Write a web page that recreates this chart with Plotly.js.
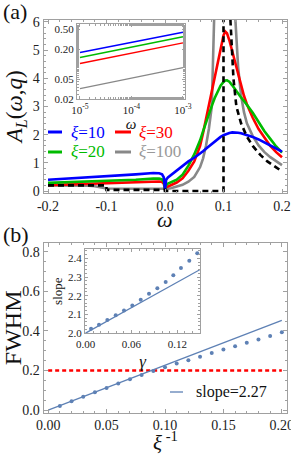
<!DOCTYPE html>
<html><head><meta charset="utf-8">
<script src="https://cdn.plot.ly/plotly-3.0.1.min.js"></script>
<style>html,body{margin:0;padding:0;background:#fff}#chart{width:291px;height:454px}</style>
</head><body><div id="chart"></div>
<script>
// ---------- Panel (a): spectral function A_L(omega,q) ----------
const omega = [-0.2,-0.15,-0.13,-0.12,-0.11,-0.1,-0.05,-0.02,-0.01,-0.005,-0.002,0,
  0.002,0.005,0.01,0.02,0.03,0.04,0.05,0.06,0.065,0.07,0.075,0.08,0.085,0.09,0.095,
  0.1,0.103,0.106,0.11,0.115,0.12,0.125,0.13,0.135,0.14,0.15,0.16,0.17,0.18,0.19,0.2];
const aXi10 = [0.40,0.46,0.48,0.50,0.51,0.52,0.59,0.64,0.63,0.59,0.48,0.06,
  0.40,0.48,0.56,0.75,0.90,1.05,1.18,1.32,1.41,1.50,1.59,1.68,1.77,1.85,1.92,
  1.98,2.01,2.04,2.06,2.08,2.08,2.07,2.05,2.02,1.99,1.92,1.83,1.73,1.62,1.51,1.40];
const aXi20 = [0.29,0.32,0.33,0.34,0.35,0.35,0.40,0.44,0.44,0.41,0.33,0.05,
  0.22,0.26,0.30,0.40,0.58,0.90,1.30,1.80,2.12,2.45,2.75,3.02,3.30,3.55,3.74,
  3.87,3.92,3.93,3.88,3.75,3.60,3.45,3.32,3.20,3.07,2.78,2.45,2.12,1.85,1.58,1.36];
const aXi30 = [0.21,0.24,0.25,0.26,0.27,0.27,0.31,0.34,0.34,0.32,0.26,0.05,
  0.13,0.16,0.20,0.30,0.45,0.72,1.05,1.60,2.05,2.55,3.00,3.50,4.05,4.60,5.10,
  5.52,5.66,5.60,5.35,4.95,4.55,4.12,3.72,3.38,3.08,2.60,2.20,1.88,1.60,1.38,1.20];
const aXi100 = [0.20,0.20,0.19,0.17,0.12,0.09,0.08,0.08,0.08,0.08,0.07,0.06,
  0.07,0.08,0.10,0.15,0.22,0.33,0.50,0.85,1.15,1.60,2.20,3.00,5.20,10,16,
  20,21,20,15,9.5,6.2,4.4,3.4,2.8,2.4,1.95,1.62,1.38,1.20,1.05,0.92];
// xi = infinity (dashed)
const omegaInf = [-0.2,-0.1,-0.1,0,0,0.1,0.1,0.105,0.11,0.112,0.117,0.122,0.13,0.14,0.15,0.163,0.175,0.19,0.2];
const aInf     = [0.2,0.2,0.04,0.04,0,0,30,12,7.5,6.0,4.0,3.0,2.4,1.93,1.6,1.28,1.05,0.84,0.70];

// inset (a): log-log
const omegaSmall = [1e-5,1e-4,1e-3];
const insXi10  = [0.171,0.273,0.435];
const insXi20  = [0.136,0.218,0.351];
const insXi30  = [0.103,0.166,0.266];
const insXi100 = [0.0326,0.0528,0.0857];
const insTickVals = [1e-5,1e-4,1e-3];
const insTickText = ['10<sup>-5</sup>','10<sup>-4</sup>','10<sup>-3</sup>'];
const insYVals = [0.02,0.05,0.2,0.5];
const insYText = ['0.02','0.05','0.20','0.50'];

// ---------- Panel (b): FWHM vs 1/xi ----------
const xiInv = [0.01,0.02,0.03,0.04,0.05,0.06,0.07,0.08,0.09,0.10,0.11,0.12,0.13,0.14,0.15,0.16,0.17,0.18,0.19,0.20];
const fwhm  = [0.021,0.045,0.067,0.090,0.112,0.134,0.156,0.177,0.198,0.216,0.235,0.252,0.269,0.289,0.306,0.323,0.340,0.357,0.374,0.393];
const fitX = [0,0.2];
const fitY = [0,0.454];
const threshX = [0,0.2];
const threshY = [0.2,0.2];
// inset (b)
const gammaVals = [0.0072,0.0176,0.0285,0.0395,0.0503,0.0612,0.0722,0.083,0.0939,0.1048,0.1148,0.1248,0.1357,0.1461];
const slopeVals = [2.023,2.045,2.070,2.096,2.121,2.148,2.178,2.210,2.240,2.273,2.309,2.348,2.387,2.427];
const slopeFitX = [0,0.15];
const slopeFitY = [2.0,2.34];

const aTickVals = [-0.2,-0.1,0,0.1,0.2];
const aTickText = ['-0.2','-0.1','0.0','0.1','0.2'];

const BLUE='#0000ff', RED='#ff0000', GREEN='#00bb00', GRAY='#888888', MBLUE='#5e81b5';
const FONT='Liberation Serif';
const W=291,H=454;
const dx=(a,b)=>[a/W,b/W];
const dy=(t,b)=>[1-b/H,1-t/H];
const FR='#a0a0a0';

const traces = [
  {x:omega,y:aXi100,xaxis:'x',yaxis:'y',mode:'lines',line:{color:GRAY,width:2.6},name:'ξ=100'},
  {x:omega,y:aXi30,xaxis:'x',yaxis:'y',mode:'lines',line:{color:RED,width:2.6},name:'ξ=30'},
  {x:omega,y:aXi20,xaxis:'x',yaxis:'y',mode:'lines',line:{color:GREEN,width:2.6},name:'ξ=20'},
  {x:omega,y:aXi10,xaxis:'x',yaxis:'y',mode:'lines',line:{color:BLUE,width:2.6},name:'ξ=10'},
  {x:omegaInf,y:aInf,xaxis:'x',yaxis:'y',mode:'lines',line:{color:'black',width:2.6,dash:'6px,4px'},name:'ξ=∞'},

  {x:omegaSmall,y:insXi10,xaxis:'x3',yaxis:'y3',mode:'lines',line:{color:BLUE,width:1.5}},
  {x:omegaSmall,y:insXi20,xaxis:'x3',yaxis:'y3',mode:'lines',line:{color:GREEN,width:1.5}},
  {x:omegaSmall,y:insXi30,xaxis:'x3',yaxis:'y3',mode:'lines',line:{color:RED,width:1.5}},
  {x:omegaSmall,y:insXi100,xaxis:'x3',yaxis:'y3',mode:'lines',line:{color:GRAY,width:1.2}},

  {x:threshX,y:threshY,xaxis:'x2',yaxis:'y2',mode:'lines',line:{color:RED,width:2.4,dash:'4px,3px'}},
  {x:fitX,y:fitY,xaxis:'x2',yaxis:'y2',mode:'lines',line:{color:MBLUE,width:1.3},name:'slope=2.27'},
  {x:xiInv,y:fwhm,xaxis:'x2',yaxis:'y2',mode:'markers',marker:{color:MBLUE,size:4}},

  {x:slopeFitX,y:slopeFitY,xaxis:'x4',yaxis:'y4',mode:'lines',line:{color:MBLUE,width:1.2}},
  {x:gammaVals,y:slopeVals,xaxis:'x4',yaxis:'y4',mode:'markers',marker:{color:MBLUE,size:4}}
];

function ax(extra){
  return Object.assign({
    showgrid:false, zeroline:false, showline:true, linecolor:FR, linewidth:1,
    mirror:'ticks', ticks:'inside', ticklen:4, tickcolor:FR, ticklabeloverflow:'allow',
    tickfont:{family:FONT,size:14,color:'#222'}
  }, extra);
}

const layout = {
  width:W, height:H, margin:{l:0,r:0,t:0,b:0}, showlegend:false,
  paper_bgcolor:'white', plot_bgcolor:'white',
  font:{family:FONT,size:14,color:'#111'},
  xaxis: ax({domain:dx(43.5,286.5), anchor:'y', range:[-0.2077,0.2077],
    tickmode:'array', tickvals:aTickVals, ticktext:aTickText,
    minor:{ticks:'inside',ticklen:2,dtick:0.02,tick0:0,tickcolor:FR}}),
  yaxis: ax({domain:dy(20,192.7), anchor:'x', range:[-0.06,6.07], dtick:1,
    minor:{ticks:'inside',ticklen:2,dtick:0.2,tick0:0,tickcolor:FR},
    title:{text:'<i>A</i><sub><i>L</i></sub>(<i>ω</i>,<i>q</i>)', font:{family:FONT,size:23}, standoff:3}}),
  xaxis2: ax({domain:dx(43.5,286.5), anchor:'y2', range:[-0.004,0.204], dtick:0.05, tick0:0, tickformat:'.2f',
    minor:{ticks:'inside',ticklen:2,dtick:0.01,tick0:0,tickcolor:FR}}),
  yaxis2: ax({domain:dy(243,412.6), anchor:'x2', range:[-0.013,0.845], dtick:0.2, tick0:0, tickformat:'.1f',
    minor:{ticks:'inside',ticklen:2,dtick:0.05,tick0:0,tickcolor:FR},
    title:{text:'FWHM', font:{family:FONT,size:24}, standoff:3}}),
  xaxis3: ax({domain:dx(77,185), anchor:'y3', type:'log', range:[-5.058,-2.961],
    tickmode:'array', tickvals:insTickVals, ticktext:insTickText, tickfont:{family:FONT,size:11,color:'#222'},
    ticklen:3, minor:{ticks:'inside',ticklen:2,tickcolor:FR},
    title:{text:'<i>ω</i>', font:{family:FONT,size:15}, standoff:0}}),
  yaxis3: ax({domain:dy(24,99.3), anchor:'x3', type:'log', range:[-1.699,-0.199],
    tickmode:'array', tickvals:insYVals, ticktext:insYText, tickfont:{family:FONT,size:11,color:'#222'},
    ticklen:3, minor:{ticks:'inside',ticklen:2,tickcolor:FR}}),
  xaxis4: ax({domain:dx(85,200), anchor:'y4', range:[-0.0007,0.1497], dtick:0.06, tick0:0, tickformat:'.2f',
    tickfont:{family:FONT,size:11,color:'#222'}, ticklen:3,
    minor:{ticks:'inside',ticklen:2,dtick:0.01,tick0:0,tickcolor:FR},
    title:{text:'<i>γ</i>', font:{family:FONT,size:17}, standoff:6}}),
  yaxis4: ax({domain:dy(249,333.3), anchor:'x4', range:[1.999,2.45], dtick:0.1, tick0:2, tickformat:'.1f',
    tickfont:{family:FONT,size:11,color:'#222'}, ticklen:3,
    minor:{ticks:'inside',ticklen:2,dtick:0.02,tick0:2,tickcolor:FR},
    title:{text:'slope', font:{family:FONT,size:13}, standoff:2}}),
  annotations: [
    {xref:'paper',yref:'paper',x:165/W,y:1-219/H,xanchor:'center',yanchor:'middle',text:'<i>ω</i>',showarrow:false,font:{family:FONT,size:22,color:'#111'}},
    {xref:'paper',yref:'paper',x:165/W,y:-3/H,xanchor:'center',yanchor:'bottom',text:'<i>ξ</i><sup> -1</sup>',showarrow:false,font:{family:FONT,size:21,color:'#111'}},
    {xref:'paper',yref:'paper',x:1/W,y:1-12/H,xanchor:'left',yanchor:'middle',text:'(a)',showarrow:false,font:{family:FONT,size:22,color:'#111'}},
    {xref:'paper',yref:'paper',x:1/W,y:1-234/H,xanchor:'left',yanchor:'middle',text:'(b)',showarrow:false,font:{family:FONT,size:22,color:'#111'}},
    {xref:'paper',yref:'paper',x:69/W,y:1-132/H,xanchor:'left',yanchor:'middle',text:'<i>ξ</i>=10',showarrow:false,font:{family:FONT,size:17,color:BLUE}},
    {xref:'paper',yref:'paper',x:137/W,y:1-132/H,xanchor:'left',yanchor:'middle',text:'<i>ξ</i>=30',showarrow:false,font:{family:FONT,size:17,color:RED}},
    {xref:'paper',yref:'paper',x:69/W,y:1-152/H,xanchor:'left',yanchor:'middle',text:'<i>ξ</i>=20',showarrow:false,font:{family:FONT,size:17,color:GREEN}},
    {xref:'paper',yref:'paper',x:137/W,y:1-152/H,xanchor:'left',yanchor:'middle',text:'<i>ξ</i>=100',showarrow:false,font:{family:FONT,size:17,color:'#999'}},
    {xref:'paper',yref:'paper',x:194/W,y:1-392/H,xanchor:'left',yanchor:'middle',text:'slope=2.27',showarrow:false,font:{family:FONT,size:16,color:'#111'}}
  ],
  shapes: [
    {type:'line',xref:'paper',yref:'paper',x0:48/W,x1:62/W,y0:1-132/H,y1:1-132/H,line:{color:BLUE,width:3}},
    {type:'line',xref:'paper',yref:'paper',x0:115/W,x1:131/W,y0:1-132/H,y1:1-132/H,line:{color:RED,width:3}},
    {type:'line',xref:'paper',yref:'paper',x0:48/W,x1:62/W,y0:1-152/H,y1:1-152/H,line:{color:GREEN,width:3}},
    {type:'line',xref:'paper',yref:'paper',x0:115/W,x1:131/W,y0:1-152/H,y1:1-152/H,line:{color:GRAY,width:3}},
    {type:'line',xref:'paper',yref:'paper',x0:170/W,x1:183/W,y0:1-392/H,y1:1-392/H,line:{color:MBLUE,width:1.3}}
  ]
};

Plotly.newPlot('chart', traces, layout, {staticPlot:true, displayModeBar:false});
</script>
</body></html>
